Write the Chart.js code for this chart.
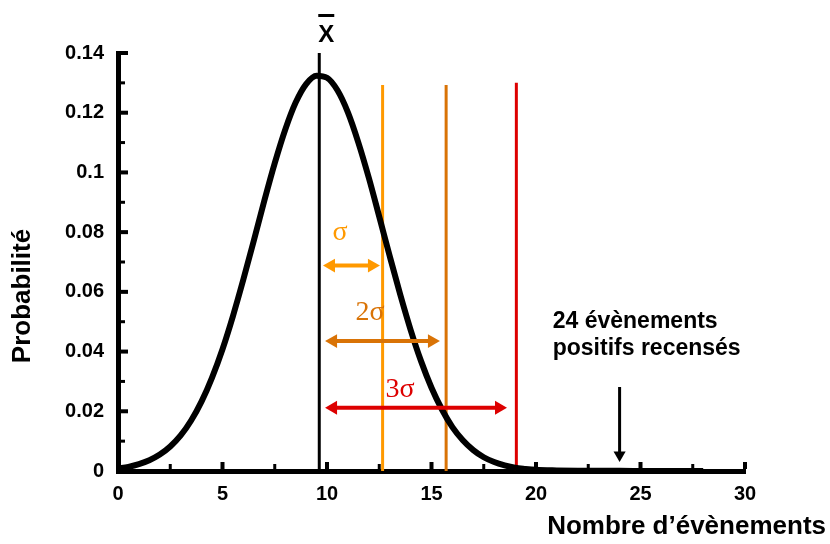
<!DOCTYPE html>
<html>
<head>
<meta charset="utf-8">
<script src="https://cdn.jsdelivr.net/npm/chart.js@4/dist/chart.umd.min.js"></script>
<style>
    body { margin: 0; background: #fff; }
    canvas { display: block; }
</style>
</head>
<body>
<canvas id="myChart" width="830" height="544"></canvas>
<script>
// curve
const curveX = [0, 0.5, 1, 1.5, 2, 2.5, 3, 3.5, 4, 4.5, 5, 5.5, 6, 6.5, 7, 7.5, 8, 8.5, 9, 9.5,
    10, 10.5, 11, 11.5, 12, 12.5, 13, 13.5, 14, 14.5, 15, 15.5, 16, 16.5, 17, 17.5, 18, 18.5, 19, 19.5,
    20, 21, 22, 24, 26, 28];
const curveY = [0.0008, 0.0014, 0.0023, 0.0036, 0.0055, 0.0082, 0.0119, 0.0169, 0.0233, 0.0313,
    0.0408, 0.0519, 0.0642, 0.0772, 0.0905, 0.1031, 0.1143, 0.1234, 0.1296, 0.1324,
    0.1317, 0.1275, 0.1201, 0.1100, 0.0982, 0.0852, 0.0720, 0.0592, 0.0473, 0.0368,
    0.0279, 0.0206, 0.0147, 0.0103, 0.0070, 0.0046, 0.0030, 0.0019, 0.0011, 0.0007,
    0.0004, 0.0002, 0.0001, 0.00005, 0, 0];

// mean and sigma lines
const meanX = 9.63;
const meanTop = 0.14;
const sigmaX = [12.66, 15.7, 19.06];
const sigmaTop = [0.1293, 0.1293, 0.13];

// double arrows (head centres) and their labels
const arrowY = [0.0688, 0.0435, 0.0212];
const arrowStart = [10.19, 10.29, 10.29];
const arrowEnd = [12.15, 15.02, 18.23];
const sigmaLabels = ['σ', '2σ', '3σ'];
const labelX = [10.62, 12.06, 13.5];
const labelY = [0.0797, 0.0532, 0.0271];

// observed value
const observedX = 24;
const observedArrowY = [0.0281, 0.0054];
const noteX = 20.8;
const noteY = 0.0499;
const noteLines = ['24 évènements', 'positifs recensés'];

const sigmaColors = ['#FF9900', '#D97306', '#DD0000'];
const FONT = '"Liberation Sans", Arial, sans-serif';

let datasets = [];
datasets.push({
    data: curveX.map((x, i) => ({ x: x, y: curveY[i] })),
    borderColor: '#000', borderWidth: 6, pointRadius: 0,
    cubicInterpolationMode: 'monotone', order: 1
});
datasets.push({
    data: [{ x: meanX, y: 0 }, { x: meanX, y: meanTop }],
    borderColor: '#000', borderWidth: 3, pointRadius: 0, order: 2
});
for (let i = 0; i < sigmaX.length; i++) {
    datasets.push({
        data: [{ x: sigmaX[i], y: 0 }, { x: sigmaX[i], y: sigmaTop[i] }],
        borderColor: sigmaColors[i], borderWidth: 3, pointRadius: 0, order: 2
    });
    datasets.push({
        data: [{ x: arrowStart[i], y: arrowY[i] }, { x: arrowEnd[i], y: arrowY[i] }],
        borderColor: sigmaColors[i], backgroundColor: sigmaColors[i], borderWidth: 4,
        pointStyle: 'triangle', pointRadius: 8, pointRotation: [-90, 90],
        pointBorderWidth: 0, order: 0
    });
}
datasets.push({
    data: [{ x: observedX, y: observedArrowY[0] }, { x: observedX, y: observedArrowY[1] }],
    borderColor: '#000', backgroundColor: '#000', borderWidth: 3,
    pointStyle: 'triangle', pointRadius: [0, 7], pointRotation: 180,
    pointBorderWidth: 0, order: 0
});

// inside ticks, labels and titles
const extras = {
    id: 'extras',
    afterDraw: function (chart) {
        const ctx = chart.ctx;
        const xs = chart.scales.x;
        const ys = chart.scales.y;
        const area = chart.chartArea;
        ctx.save();
        ctx.fillStyle = '#000';
        for (let k = 1; k <= 14; k++) {
            const py = ys.getPixelForValue(k / 100);
            const major = k % 2 === 0;
            ctx.fillRect(area.left + 2, py - (major ? 2 : 1.5), major ? 8 : 5, major ? 4 : 3);
        }
        for (let k = 1; k <= 12; k++) {
            const px = xs.getPixelForValue(k * 2.5);
            const major = k % 2 === 0;
            ctx.fillRect(px - (major ? 2 : 1.5), area.bottom - 2 - (major ? 7 : 5), major ? 4 : 3, major ? 7 : 5);
        }

        // x bar above the mean line
        const mx = xs.getPixelForValue(meanX) + 7;
        ctx.font = 'bold 24px ' + FONT;
        ctx.textAlign = 'center';
        ctx.textBaseline = 'alphabetic';
        ctx.fillText('X', mx, 42);
        ctx.fillRect(mx - 8, 14, 16, 3);

        // sigma labels
        ctx.font = '28px "Liberation Serif", "Times New Roman", serif';
        ctx.textBaseline = 'middle';
        for (let i = 0; i < sigmaLabels.length; i++) {
            ctx.fillStyle = sigmaColors[i];
            ctx.fillText(sigmaLabels[i], xs.getPixelForValue(labelX[i]), ys.getPixelForValue(labelY[i]));
        }

        // note
        ctx.fillStyle = '#000';
        ctx.font = 'bold 23px ' + FONT;
        ctx.textAlign = 'left';
        for (let i = 0; i < noteLines.length; i++) {
            ctx.fillText(noteLines[i], xs.getPixelForValue(noteX), ys.getPixelForValue(noteY) + i * 27);
        }

        // axis titles
        ctx.font = 'bold 26px ' + FONT;
        ctx.textAlign = 'right';
        ctx.fillText('Nombre d’évènements', 826, 527);
        ctx.translate(23, 296);
        ctx.rotate(-Math.PI / 2);
        ctx.textAlign = 'center';
        ctx.fillText('Probabilité', 0, 0);
        ctx.restore();
    }
};

const ctx = document.getElementById('myChart').getContext('2d');
const myChart = new Chart(ctx, {
    type: 'line',
    data: { datasets: datasets },
    plugins: [extras],
    options: {
        responsive: false,
        animation: false,
        devicePixelRatio: 1,
        layout: { padding: { top: 53, right: 85, left: 0, bottom: 0 } },
        plugins: { legend: { display: false }, tooltip: { enabled: false } },
        scales: {
            x: {
                type: 'linear', min: 0, max: 30,
                grid: { display: false, drawTicks: false },
                border: { display: true, color: '#000', width: 5 },
                ticks: { stepSize: 5, color: '#000', padding: 11, font: { family: FONT, size: 20, weight: 'bold' } },
                afterFit: function (s) { s.height = 73; }
            },
            y: {
                type: 'linear', min: 0, max: 0.14,
                grid: { display: false, drawTicks: false },
                border: { display: true, color: '#000', width: 5 },
                ticks: {
                    stepSize: 0.02, color: '#000', padding: 14,
                    font: { family: FONT, size: 20, weight: 'bold' },
                    callback: function (v) { return String(+v.toFixed(2)); }
                },
                afterFit: function (s) { s.width = 118; }
            }
        }
    }
});
</script>
</body>
</html>
